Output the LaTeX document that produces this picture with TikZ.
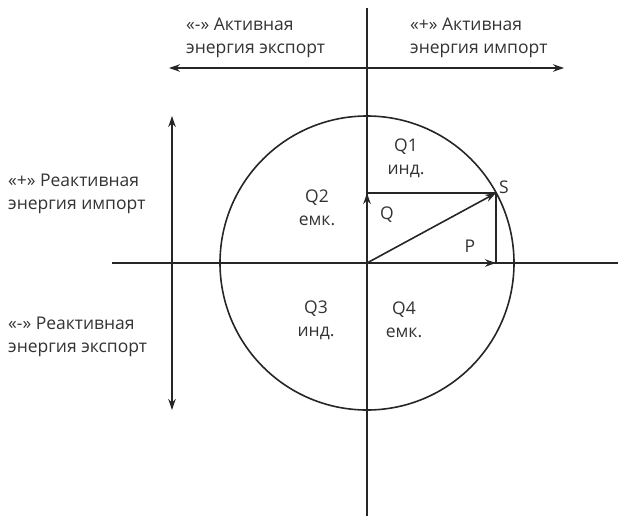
\documentclass[tikz,border=0pt]{standalone}
\usepackage{fontspec}
\setmainfont{Open Sans}
\usetikzlibrary{arrows.meta}
\begin{document}
\begin{tikzpicture}[x=1pt,y=-1pt,
  axis/.style={line width=1.6pt,black!85},
  vec/.style={line width=2pt,black!85},
  tip/.style={-{Stealth[length=11pt,width=7.5pt]}},
  lbl/.style={font=\fontsize{17.5}{23}\selectfont,align=left,inner sep=0pt,text=black!80},
  qlbl/.style={font=\fontsize{17.5}{23}\selectfont,align=center,inner sep=0pt,text=black!80}]
\useasboundingbox (0,0) rectangle (618,517);
\coordinate (O) at (367,263);
\coordinate (S) at (496,193);
\coordinate (Px) at (496,263);
\coordinate (Qy) at (367,193);
\coordinate (vt) at (367,8);
\coordinate (vb) at (367,516);
\coordinate (hl) at (112,263);
\coordinate (hr) at (618,263);
\coordinate (al) at (169,68);
\coordinate (ar) at (564,68);
\coordinate (rt) at (172,116);
\coordinate (rb) at (172,410);
% axes
\draw[axis] (vt) -- (vb);
\draw[axis] (hl) -- (hr);
\draw[axis] (O) circle[radius=147];
% double arrows
\draw[axis,{Stealth[length=11pt,width=7.5pt]}-{Stealth[length=11pt,width=7.5pt]}] (al) -- (ar);
\draw[axis,{Stealth[length=11pt,width=7.5pt]}-{Stealth[length=11pt,width=7.5pt]}] (rt) -- (rb);
% vectors
\draw[axis] (Qy) -- (S) -- (Px);
\draw[vec,tip] (O) -- (Qy);
\draw[vec,tip] (O) -- (Px);
\draw[axis,tip] (O) -- (S);
% labels
\node[lbl,anchor=base west] (exp) at (186,53) {«-» Активная\\энергия экспорт};
\node[lbl,anchor=base west] (imp) at (410,53) {«+» Активная\\энергия импорт};
\node[lbl,anchor=base west] (rimp) at (8,209) {«+» Реактивная\\энергия импорт};
\node[lbl,anchor=base west] (rexp) at (8,352) {«-» Реактивная\\энергия экспорт};
\node[qlbl] (q1) at (406,158) {Q1\\инд.};
\node[qlbl] (q2) at (317,208) {Q2\\емк.};
\node[qlbl] (q3) at (316,320) {Q3\\инд.};
\node[qlbl] (q4) at (404,320) {Q4\\емк.};
\node[qlbl] (ql) at (387,215) {Q};
\node[qlbl] (pl) at (470,246) {P};
\node[qlbl] (sl) at (504,187) {S};
\end{tikzpicture}
\end{document}
